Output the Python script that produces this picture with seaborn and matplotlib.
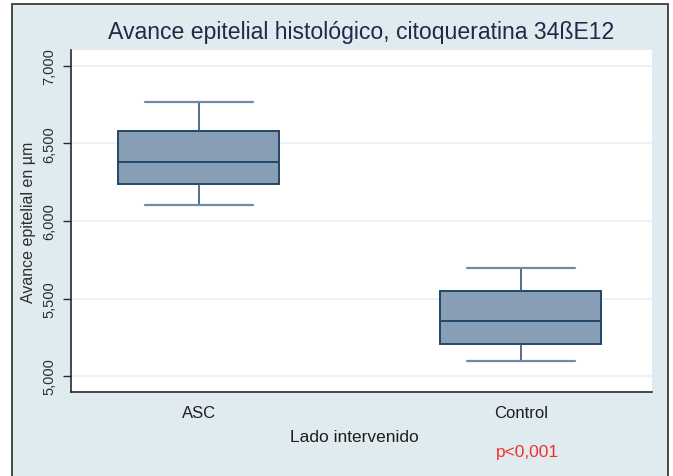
import numpy as np
import pandas as pd
import matplotlib
matplotlib.use("Agg")
import matplotlib.pyplot as plt
from matplotlib.patches import Rectangle
from matplotlib.ticker import FuncFormatter
import seaborn as sns

# five-number summaries (min, q1, median, q3, max)
groups = ["ASC", "Control"]
asc_vals = [6103, 6237, 6381, 6583, 6770]
control_vals = [5100, 5205, 5355, 5550, 5700]
y_ticks = [5000, 5500, 6000, 6500, 7000]

df = pd.DataFrame({
    "grupo": ["ASC"] * len(asc_vals) + ["Control"] * len(control_vals),
    "avance": asc_vals + control_vals,
})

sns.set_style("white")
plt.rcParams["font.family"] = ["Liberation Sans", "DejaVu Sans"]

bg = "#dfebee"
navy = "#23466c"

fig = plt.figure(figsize=(6.73, 4.77), dpi=100)
fig.patch.set_facecolor("white")
# stata-like graph region with a dark frame
fig.patches.append(Rectangle((12 / 673, -0.02), 656 / 673, 472 / 477 + 0.02,
                             transform=fig.transFigure, facecolor=bg,
                             edgecolor="#3a3a3a", linewidth=1.3, zorder=-5))

ax = fig.add_axes([71 / 673, 1 - 393 / 477, 581 / 673, 342 / 477])
ax.set_facecolor("white")

sns.boxplot(data=df, x="grupo", y="avance", order=groups, ax=ax,
            width=0.5, color="#879eb4", saturation=1, linecolor=navy,
            linewidth=1.4, capwidths=0.335,
            whiskerprops=dict(color="#34577c", linewidth=1.2),
            capprops=dict(color="#7189a6", linewidth=1.6),
            medianprops=dict(color=navy, linewidth=1.4))

ax.set_xlim(-0.3975, 1.407)
ax.set_ylim(4897, 7103)
ax.set_yticks(y_ticks)
ax.yaxis.set_major_formatter(FuncFormatter(lambda v, p: f"{int(v):,}"))
ax.grid(axis="y", color="#e7f0f1", linewidth=1.1)
ax.set_axisbelow(True)

for s in ["top", "right"]:
    ax.spines[s].set_visible(False)
for s in ["left", "bottom"]:
    ax.spines[s].set_color("#2a2a2a")
    ax.spines[s].set_linewidth(1.2)

ax.tick_params(axis="y", left=True, length=6, width=1, color="#2a2a2a",
               labelsize=10.5, labelcolor="#2e2e2e", pad=4.5)
for lab in ax.get_yticklabels():
    lab.set_rotation(90)
    lab.set_va("center")
ax.tick_params(axis="x", length=0, labelsize=12, labelcolor="#1e1e1e", pad=9)

ax.set_xlabel("Lado intervenido", fontsize=12.5, color="#1e1e1e", labelpad=7)
ax.xaxis.set_label_coords(0.487, -0.108)
ax.set_ylabel("Avance epitelial en µm", fontsize=11.5, color="#2e2e2e")
ax.yaxis.set_label_coords(-0.06, 0.5)

fig.text(361 / 673, 1 - 33 / 477, "Avance epitelial histológico, citoqueratina 34ßE12",
         ha="center", va="center", fontsize=16.6, color="#1c2b4a")
fig.text(527 / 673, 1 - 453 / 477, "p<0,001", ha="center", va="center",
         fontsize=12.5, color="#f03030")

fig.savefig("out.png", dpi=100, facecolor=fig.get_facecolor())
